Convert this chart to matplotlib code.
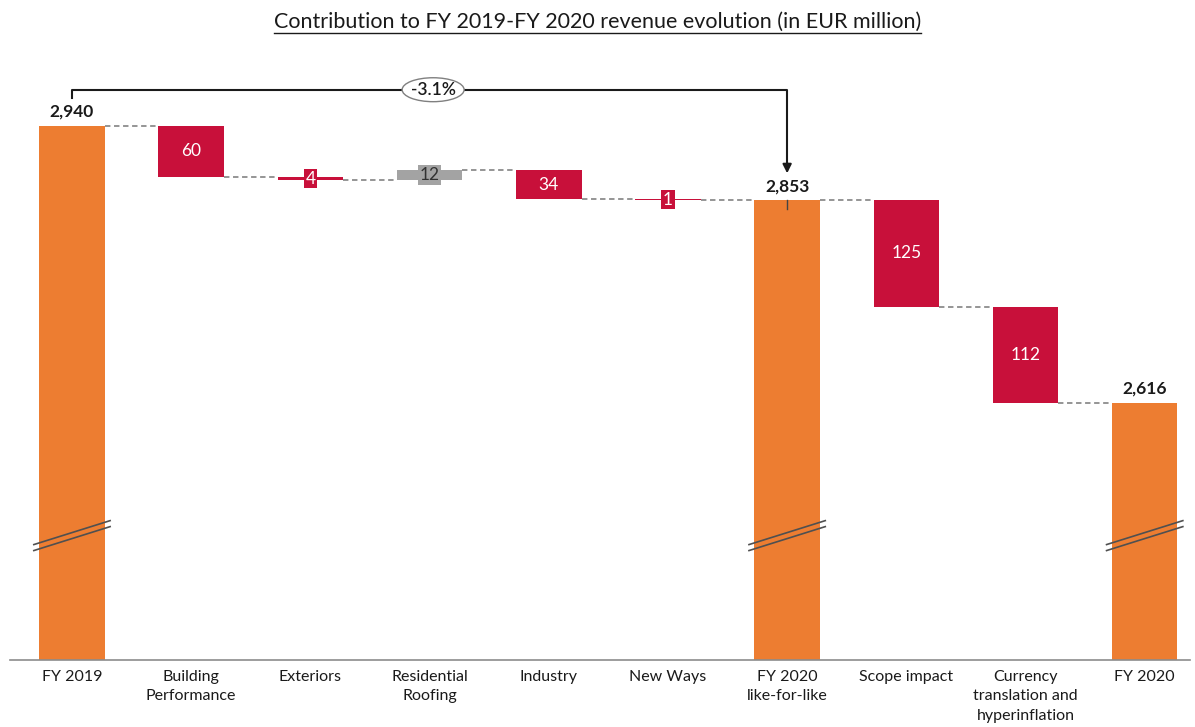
import matplotlib.pyplot as plt
from matplotlib.patches import Ellipse
import numpy as np

plt.rcParams['font.family'] = ['Lato', 'DejaVu Sans']

# Données du graphique
categories = ['FY 2019', 'Building\nPerformance', 'Exteriors', 'Residential\nRoofing',
              'Industry', 'New Ways', 'FY 2020\nlike-for-like', 'Scope impact',
              'Currency\ntranslation and\nhyperinflation', 'FY 2020']
values = [2940, -60, -4, 12, -34, -1, 2853, -125, -112, 2616]
is_total = [True, False, False, False, False, False, True, False, False, True]
value_labels = ['2,940', '60', '4', '12', '34', '1', '2,853', '125', '112', '2,616']
change_label = '-3.1%'

ORANGE = '#ED7D31'
RED = '#C8103A'
GREY = '#A3A3A3'
Y_MIN = 2315

fig = plt.figure(figsize=(11.95, 7.27), dpi=100)
ax = fig.add_axes([10 / 1195, 1 - 660 / 727, 1180 / 1195, 600 / 727])

x = np.arange(len(categories))
width = 0.55

# Calcul des bases / hauteurs
bottoms, heights, colors = [], [], []
level = 0
for v, tot in zip(values, is_total):
    if tot:
        bottoms.append(Y_MIN)
        heights.append(v - Y_MIN)
        colors.append(ORANGE)
        level = v
    else:
        new = level + v
        bottoms.append(min(level, new))
        heights.append(abs(v))
        colors.append(RED if v < 0 else GREY)
        level = new

ax.bar(x, heights, bottom=bottoms, width=width, color=colors, zorder=2)

# Lignes pointillées entre barres
level = 0
for i, (v, tot) in enumerate(zip(values, is_total)):
    level = v if tot else level + v
    if i < len(values) - 1:
        ax.plot([x[i] + width / 2, x[i + 1] - width / 2], [level, level],
                ls=(0, (3, 2)), color='#8C8C8C', lw=1.3, zorder=1)

# Étiquettes
for i, (v, tot) in enumerate(zip(values, is_total)):
    if tot:
        ax.text(x[i], v + 7, value_labels[i], ha='center', va='bottom',
                fontsize=12.5, fontweight='bold', color='#1a1a1a')
    else:
        ymid = bottoms[i] + heights[i] / 2
        if abs(v) < 15:
            tc = '#333333' if v > 0 else 'white'
            ax.text(x[i], ymid, value_labels[i], ha='center', va='center',
                    fontsize=12.5, color=tc, zorder=3,
                    bbox=dict(boxstyle='square,pad=0.1', fc=colors[i], ec='none'))
        else:
            ax.text(x[i], ymid, value_labels[i], ha='center', va='center',
                    fontsize=12.5, color='white', zorder=3)

# Marques de rupture d'axe
for i, tot in enumerate(is_total):
    if tot:
        for off in (0, -7):
            ax.plot([x[i] - 0.32, x[i] + 0.32], [2450 + off, 2478 + off],
                    color='#505050', lw=1.2, zorder=3, clip_on=False)

# Crochet -3.1%
y_top = 2982
ax.plot([x[0], x[0], x[6], x[6]], [2972, y_top, y_top, 2895],
        color='#1a1a1a', lw=1.5, clip_on=False, zorder=4)
ax.annotate('', xy=(x[6], 2881), xytext=(x[6], 2900),
            arrowprops=dict(arrowstyle='-|>', color='#1a1a1a', lw=1.5,
                            mutation_scale=13), annotation_clip=False)
ax.plot([x[6], x[6]], [2853, 2843], color='#444444', lw=1, zorder=3)
ell = Ellipse((3.03, y_top), 0.52, 28, fc='white', ec='#808080', lw=1,
              zorder=5, clip_on=False)
ax.add_patch(ell)
ax.text(3.03, y_top, change_label, ha='center', va='center', fontsize=12.5,
        fontweight='semibold', color='#1a1a1a', zorder=6)

ax.set_xlim(-0.52, 9.38)
ax.set_ylim(Y_MIN, Y_MIN + 600 / 0.855)
ax.set_xticks(x)
ax.set_xticklabels(categories, fontsize=11.5, color='#1a1a1a', linespacing=1.5)
ax.tick_params(axis='x', length=0, pad=7)
ax.set_yticks([])
for s in ['top', 'right', 'left']:
    ax.spines[s].set_visible(False)
ax.spines['bottom'].set_color('#8C8C8C')
ax.spines['bottom'].set_linewidth(1.2)

title = fig.text(0.5, 1 - 22 / 727, 'Contribution to FY 2019-FY 2020 revenue evolution (in EUR million)',
                 ha='center', va='center', fontsize=15.5, color='#1a1a1a')
fig.canvas.draw()
bb = title.get_window_extent()
fig.add_artist(plt.Line2D([bb.x0 / 1195, bb.x1 / 1195], [(bb.y0 - 1) / 727] * 2,
                          color='#1a1a1a', lw=1))

fig.savefig('out.png', dpi=100)
